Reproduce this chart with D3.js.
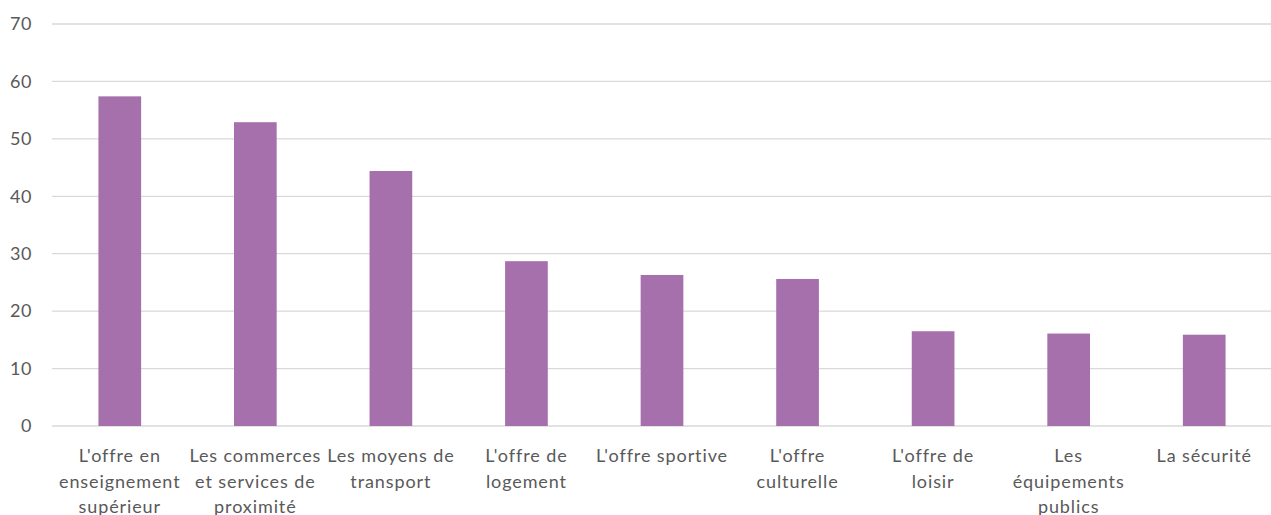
<!DOCTYPE html>
<html>
<head>
<meta charset="utf-8">
<script src="https://cdn.jsdelivr.net/npm/d3@7"></script>
<style>
  body { margin: 0; background: #fff; }
  text { font-family: Lato, "Liberation Sans", sans-serif; fill: #595959; }
</style>
</head>
<body>
<div id="chart"></div>
<script>
// categories (label lines as shown in the chart)
const categories = [
  ["L'offre en", "enseignement", "supérieur"],
  ["Les commerces", "et services de", "proximité"],
  ["Les moyens de", "transport"],
  ["L'offre de", "logement"],
  ["L'offre sportive"],
  ["L'offre", "culturelle"],
  ["L'offre de", "loisir"],
  ["Les", "équipements", "publics"],
  ["La sécurité"]
];
const values = [57.4, 52.9, 44.4, 28.7, 26.3, 25.6, 16.5, 16.1, 15.9];
const yTicks = [0, 10, 20, 30, 40, 50, 60, 70];

const width = 1271, height = 515;
const margin = { top: 24, right: -1, bottom: 89, left: 52 };

const svg = d3.select("#chart")
  .append("svg")
  .attr("width", width)
  .attr("height", height);

const keys = categories.map((c, i) => i);

const x = d3.scaleBand()
  .domain(keys)
  .range([margin.left, width - margin.right])
  .paddingInner(0.685)
  .paddingOuter(0.3425);

const y = d3.scaleLinear()
  .domain([0, 70])
  .range([height - margin.bottom, margin.top]);

// gridlines
svg.append("g")
  .selectAll("line")
  .data(yTicks)
  .join("line")
  .attr("x1", margin.left)
  .attr("x2", width)
  .attr("y1", d => y(d))
  .attr("y2", d => y(d))
  .attr("stroke", "#d9d9d9")
  .attr("stroke-width", 1.3);

// y axis labels
const yAxis = d3.axisLeft(y).tickValues(yTicks).tickSize(0).tickPadding(20);
svg.append("g")
  .attr("transform", `translate(${margin.left},0)`)
  .call(yAxis)
  .call(g => g.select(".domain").remove())
  .call(g => g.selectAll("text")
    .style("font-size", "18px")
    .style("letter-spacing", "0.5px")
    .attr("fill", "#595959"));

// bars
svg.append("g")
  .selectAll("rect")
  .data(values)
  .join("rect")
  .attr("x", (d, i) => x(i))
  .attr("width", x.bandwidth())
  .attr("y", d => y(d))
  .attr("height", d => y(0) - y(d))
  .attr("fill", "#a670ac");

// x labels
const labels = svg.append("g")
  .selectAll("text")
  .data(categories)
  .join("text")
  .attr("x", (d, i) => x(i) + x.bandwidth() / 2)
  .attr("y", y(0) + 36)
  .attr("text-anchor", "middle")
  .style("font-size", "18px")
  .style("letter-spacing", "0.9px");

labels.selectAll("tspan")
  .data(d => d)
  .join("tspan")
  .attr("x", function () { return d3.select(this.parentNode).attr("x"); })
  .attr("dy", (d, i) => i === 0 ? 0 : 25.5)
  .text(d => d);
</script>
</body>
</html>
